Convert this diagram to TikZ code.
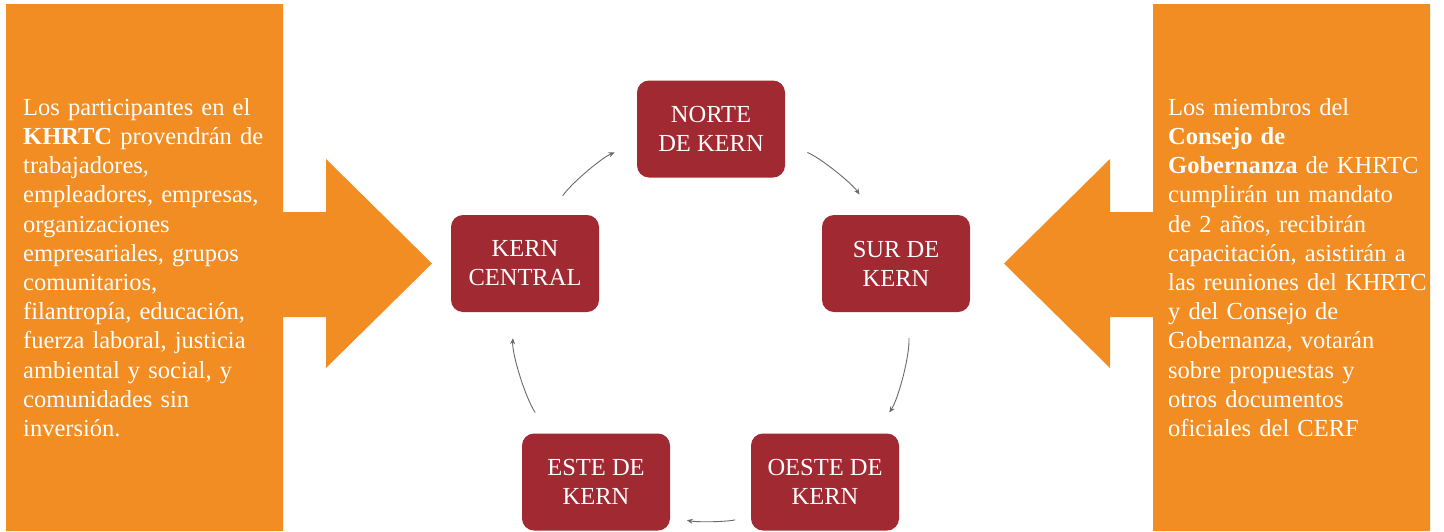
\documentclass[tikz,border=0pt]{standalone}
\usepackage{fontspec}
\setmainfont{Liberation Serif}
\usetikzlibrary{arrows.meta}
\definecolor{kernorange}{RGB}{241,141,34}
\definecolor{kernred}{RGB}{161,41,49}
\definecolor{cyclegray}{RGB}{105,105,105}
\tikzset{
  region/.style={fill=kernred, rounded corners=12pt, minimum width=148pt,
    minimum height=97pt, text=white, align=center, inner sep=0pt,
    font=\fontsize{24.5}{29}\selectfont},
  flow/.style={draw=cyclegray, line width=0.9pt, looseness=0.86,
    -{Stealth[length=6pt,width=5pt]}},
  sidetext/.style={text=white, align=left, text width=280pt, inner sep=0pt,
    font=\fontsize{24.5}{29.2}\selectfont}
}

\begin{document}
\begin{tikzpicture}[x=1pt,y=-1pt]
    \useasboundingbox (0,0) rectangle (1444,531);
    \begin{scope}
      \fill[kernorange] (6,4) -- (283,4) -- (283,212) -- (326,212) -- (326,159)
        -- (432,263.5) -- (326,368) -- (326,317) -- (283,317) -- (283,531) -- (6,531) -- cycle;
    \end{scope}
    \begin{scope}[xshift=1436pt,xscale=-1]
      \fill[kernorange] (6,4) -- (283,4) -- (283,212) -- (326,212) -- (326,159)
        -- (432,263.5) -- (326,368) -- (326,317) -- (283,317) -- (283,531) -- (6,531) -- cycle;
    \end{scope}
    \node[sidetext,anchor=west] (participantes) at (23,267.5) {Los participantes en el\\
      \textbf{KHRTC} provendrán de\\ trabajadores,\\ empleadores, empresas,\\
      organizaciones\\ empresariales, grupos\\ comunitarios,\\ filantropía, educación,\\
      fuerza laboral, justicia\\ ambiental y social, y\\ comunidades sin\\ inversión.};
    \node[sidetext,anchor=west] (miembros) at (1168,267.5) {Los miembros del\\
      \textbf{Consejo de}\\ \textbf{Gobernanza} de KHRTC\\ cumplirán un mandato\\
      de 2 años, recibirán\\ capacitación, asistirán a\\ las reuniones del KHRTC\\
      y del Consejo de\\ Gobernanza, votarán\\ sobre propuestas y\\ otros documentos\\
      oficiales del CERF};
    \node[region] (nk) at (711,129) {NORTE\\DE KERN};
    \node[region] (kc) at (525,263.5) {KERN\\CENTRAL};
    \node[region] (sk) at (896,263.5) {SUR DE\\KERN};
    \node[region] (ek) at (596,482) {ESTE DE\\KERN};
    \node[region] (ok) at (825,482) {OESTE DE\\KERN};
    \foreach \a/\oa/\b/\ib/\o/\i/\s/\e in {kc/63.9/nk/191.1/55.85/202.18/23pt/24pt,
        nk/-11.1/sk/115.2/-22.18/124.15/24pt/24.5pt,
        sk/-77.7/ok/44.6/-86.2/56.4/26pt/25pt,
        ok/205.25/ek/-25.1/191.8/-12.07/16pt/17pt,
        ek/134.8/kc/258.8/123.6/266.2/25pt/26pt}
    {
      \draw[flow,shorten <=\s,shorten >=\e] (\a.\oa) to[out=\o,in=\i] (\b.\ib);
    }
\end{tikzpicture}
\end{document}
